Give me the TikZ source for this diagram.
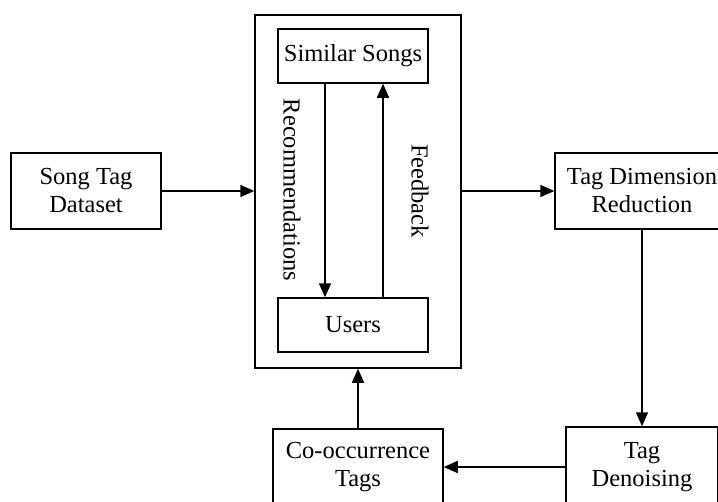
\documentclass[tikz,border=0pt]{standalone}
\usepackage{fontspec}
\setmainfont{Liberation Serif}
\usetikzlibrary{arrows.meta}
\tikzset{
    block/.style={draw, line width=1.5pt, align=center, inner sep=0pt,
        font=\fontsize{24.5}{28}\selectfont},
    flow/.style={->, line width=1.5pt},
    >={Triangle[length=14pt,width=12pt]}
}
\begin{document}
\begin{tikzpicture}[x=1pt,y=-1pt]
        \useasboundingbox (0,0) rectangle (718,501);
        \clip (0,0) rectangle (718,501);
        \node[block, minimum width=206pt, minimum height=353pt] (hub) at (358,191.5) {};
        \node[block, minimum width=150pt, minimum height=54pt] (similar) at (353,56) {Similar Songs};
        \node[block, minimum width=150pt, minimum height=54pt] (users) at (353,325) {Users};
        \node[block, minimum width=150pt, minimum height=76pt] (data) at (86,191) {Song Tag\\Dataset};
        \node[block, minimum width=174pt, minimum height=76pt] (reduce) at (642,191) {Tag Dimension\\Reduction};
        \node[block, minimum width=152pt, minimum height=80pt] (denoise) at (642,467) {Tag\\Denoising};
        \node[block, minimum width=170pt, minimum height=76pt] (cooc) at (358,467) {Co-occurrence\\Tags};
        % loop inside the hub
        \draw[flow] ([xshift=-28pt]similar.south) -- ([xshift=-28pt]users.north);
        \draw[flow] ([xshift=30pt]users.north) -- ([xshift=30pt]similar.south);
        \node[rotate=-90, font=\fontsize{24.5}{28}\selectfont] (reclabel) at (292,190) {Recommendations};
        \node[rotate=-90, font=\fontsize{24.5}{28}\selectfont] (feedlabel) at (420,191) {Feedback};
        % main chain
        \draw[flow] (data.east) -- (data.east -| hub.west);
        \draw[flow] (hub.east |- reduce.west) -- (reduce.west);
        \draw[flow] (reduce.south) -- (denoise.north);
        \draw[flow] (denoise.west) -- (cooc.east);
        \draw[flow] (cooc.north) -- (hub.south);
    \end{tikzpicture}
\end{document}
